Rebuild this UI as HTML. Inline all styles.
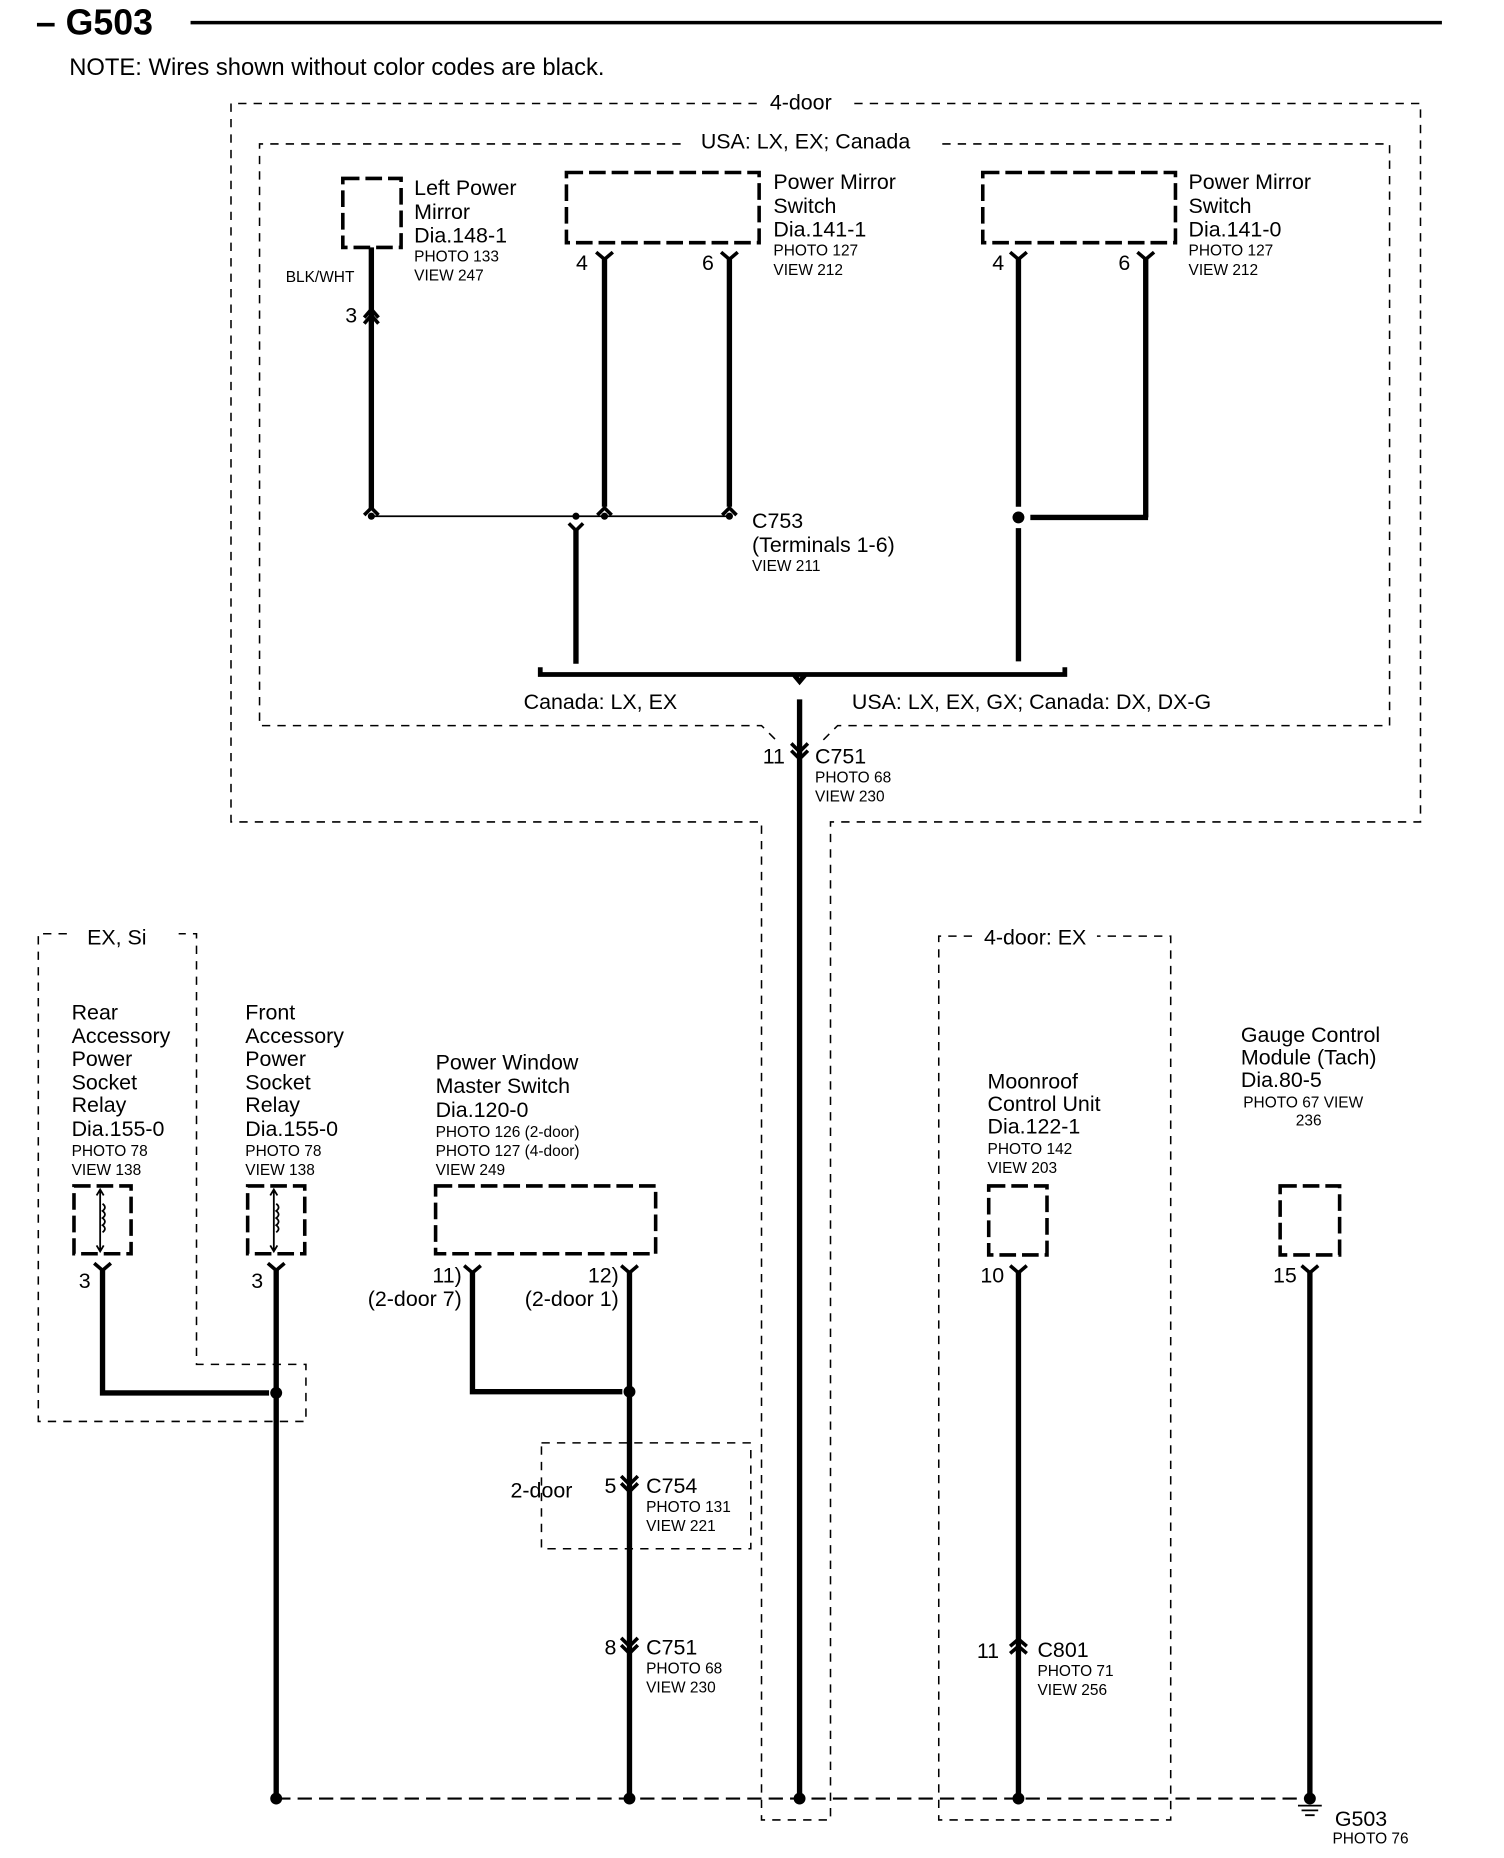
<!DOCTYPE html>
<html><head><meta charset="utf-8"><style>
html,body{margin:0;padding:0;background:#fff}
svg{display:block}
text{font-family:"Liberation Sans Narrow","Liberation Sans",sans-serif;fill:#000}
.l{font-size:18px}.s{font-size:13px}
.d{fill:none;stroke:#000;stroke-width:1.3;stroke-dasharray:7,6}
.b{fill:none;stroke:#000;stroke-width:3;stroke-dasharray:14,5}
.w{fill:none;stroke:#000;stroke-width:4.5}
.c{fill:none;stroke:#000;stroke-width:3}
.t{fill:none;stroke:#000;stroke-width:1.5}
</style></head><body>
<svg width="1504" height="1858" viewBox="0 0 1264 1562" xmlns="http://www.w3.org/2000/svg">
<!-- header -->
<text x="30" y="29" style="font-family:'Liberation Sans',sans-serif;font-size:30px;font-weight:bold">– G503</text>
<line x1="160" y1="19" x2="1212" y2="19" stroke="#000" stroke-width="3"/>
<text x="58" y="63" style="font-family:'Liberation Sans',sans-serif;font-size:20px">NOTE: Wires shown without color codes are black.</text>

<!-- 4-door box -->
<path class="d" d="M636,87 H194 V691 H640 V1530 H698 V691 H1194 V87 H712"/>
<text x="673" y="92" class="l" text-anchor="middle">4-door</text>
<!-- USA box -->
<path class="d" d="M572,121 H218 V610 H640 L652,622 M692,622 L704,610 H1168 V121 H786"/>
<text x="677" y="125" class="l" text-anchor="middle">USA: LX, EX; Canada</text>

<!-- left power mirror -->
<rect class="b" x="288" y="150" width="49" height="58"/>
<text x="348" y="164" class="l">Left Power</text>
<text x="348" y="184" class="l">Mirror</text>
<text x="348" y="204" class="l">Dia.148-1</text>
<text x="348" y="220" class="s">PHOTO 133</text>
<text x="348" y="236" class="s">VIEW 247</text>
<text x="240" y="237" class="s">BLK/WHT</text>
<line class="w" x1="312" y1="208" x2="312" y2="428"/>
<path class="c" d="M306,267 L312,260 L318,267 M306,272 L312,265 L318,272"/>
<text x="290" y="271" class="l">3</text>

<!-- PMS 1 -->
<rect class="b" x="476" y="145" width="162" height="59"/>
<text x="650" y="159" class="l">Power Mirror</text>
<text x="650" y="179" class="l">Switch</text>
<text x="650" y="199" class="l">Dia.141-1</text>
<text x="650" y="215" class="s">PHOTO 127</text>
<text x="650" y="231" class="s">VIEW 212</text>
<path class="c" d="M501,212 L508,218 L515,212 M606,212 L613,218 L620,212"/>
<line class="w" x1="508" y1="216" x2="508" y2="426"/>
<line class="w" x1="613" y1="216" x2="613" y2="426"/>
<text x="484" y="227" class="l">4</text>
<text x="590" y="227" class="l">6</text>
<path class="c" d="M502,433 L508,427 L514,433 M607,433 L613,427 L619,433 M306,433 L312,427 L318,433"/>
<line class="t" x1="312" y1="434" x2="613" y2="434"/>
<circle cx="312" cy="434" r="3"/><circle cx="484" cy="434" r="3"/><circle cx="508" cy="434" r="3"/><circle cx="613" cy="434" r="3"/>
<path class="c" d="M478,440 L484,446 L490,440"/>
<line class="w" x1="484" y1="444" x2="484" y2="558"/>
<text x="632" y="444" class="l">C753</text>
<text x="632" y="464" class="l">(Terminals 1-6)</text>
<text x="632" y="480" class="s">VIEW 211</text>

<!-- PMS 2 -->
<rect class="b" x="826" y="145" width="162" height="59"/>
<text x="999" y="159" class="l">Power Mirror</text>
<text x="999" y="179" class="l">Switch</text>
<text x="999" y="199" class="l">Dia.141-0</text>
<text x="999" y="215" class="s">PHOTO 127</text>
<text x="999" y="231" class="s">VIEW 212</text>
<path class="c" d="M849,212 L856,218 L863,212 M956,212 L963,218 L970,212"/>
<line class="w" x1="856" y1="216" x2="856" y2="426"/>
<line class="w" x1="963" y1="216" x2="963" y2="435"/>
<line class="w" x1="866" y1="435" x2="965" y2="435"/>
<circle cx="856" cy="435" r="5"/>
<line class="w" x1="856" y1="444" x2="856" y2="556"/>
<text x="834" y="227" class="l">4</text>
<text x="940" y="227" class="l">6</text>

<!-- brace -->
<path d="M454,561 V567 H895 V561 M667,567 L672,573 L677,567" fill="none" stroke="#000" stroke-width="4"/>
<text x="440" y="596" class="l">Canada: LX, EX</text>
<text x="716" y="596" class="l">USA: LX, EX, GX; Canada: DX, DX-G</text>

<!-- main wire -->
<line class="w" x1="672" y1="588" x2="672" y2="1512"/>
<path class="c" d="M665,625 L672,632 L679,625 M665,631 L672,638 L679,631"/>
<text x="641" y="642" class="l">11</text>
<text x="685" y="642" class="l">C751</text>
<text x="685" y="658" class="s">PHOTO 68</text>
<text x="685" y="674" class="s">VIEW 230</text>

<!-- EX Si box -->
<path class="d" d="M56,785 H32 V1195 H257 V1147 H165 V785 H150"/>
<text x="73" y="794" class="l">EX, Si</text>
<text x="60" y="857" class="l">Rear</text>
<text x="60" y="877" class="l">Accessory</text>
<text x="60" y="896" class="l">Power</text>
<text x="60" y="916" class="l">Socket</text>
<text x="60" y="935" class="l">Relay</text>
<text x="60" y="955" class="l">Dia.155-0</text>
<text x="60" y="972" class="s">PHOTO 78</text>
<text x="60" y="988" class="s">VIEW 138</text>
<text x="206" y="857" class="l">Front</text>
<text x="206" y="877" class="l">Accessory</text>
<text x="206" y="896" class="l">Power</text>
<text x="206" y="916" class="l">Socket</text>
<text x="206" y="935" class="l">Relay</text>
<text x="206" y="955" class="l">Dia.155-0</text>
<text x="206" y="972" class="s">PHOTO 78</text>
<text x="206" y="988" class="s">VIEW 138</text>
<rect class="b" x="62" y="997" width="48" height="57"/>
<rect class="b" x="208" y="997" width="48" height="57"/>
<g class="t">
<path d="M84,1000 V1052 M81,1005 L84,1000 L87,1005 M81,1047 L84,1052 L87,1047 M86,1012 q4,3 0,6 q4,3 0,6 q4,3 0,6 q4,3 0,6"/>
<path d="M230,1000 V1052 M227,1005 L230,1000 L233,1005 M227,1047 L230,1052 L233,1047 M232,1012 q4,3 0,6 q4,3 0,6 q4,3 0,6 q4,3 0,6"/>
</g>
<path class="c" d="M79,1062 L86,1068 L93,1062 M225,1062 L232,1068 L239,1062"/>
<text x="66" y="1083" class="l">3</text>
<text x="211" y="1083" class="l">3</text>
<path class="w" d="M86,1066 V1171 H226"/>
<line class="w" x1="232" y1="1066" x2="232" y2="1512"/>
<circle cx="232" cy="1171" r="5"/>

<!-- PWMS -->
<text x="366" y="899" class="l">Power Window</text>
<text x="366" y="919" class="l">Master Switch</text>
<text x="366" y="939" class="l">Dia.120-0</text>
<text x="366" y="956" class="s">PHOTO 126 (2-door)</text>
<text x="366" y="972" class="s">PHOTO 127 (4-door)</text>
<text x="366" y="988" class="s">VIEW 249</text>
<rect class="b" x="366" y="997" width="185" height="57"/>
<path class="c" d="M390,1064 L397,1070 L404,1064 M522,1064 L529,1070 L536,1064"/>
<text x="388" y="1078" class="l" text-anchor="end">11)</text>
<text x="388" y="1098" class="l" text-anchor="end">(2-door 7)</text>
<text x="520" y="1078" class="l" text-anchor="end">12)</text>
<text x="520" y="1098" class="l" text-anchor="end">(2-door 1)</text>
<path class="w" d="M397,1068 V1170 H523"/>
<line class="w" x1="529" y1="1068" x2="529" y2="1512"/>
<circle cx="529" cy="1170" r="5"/>
<rect class="d" x="455" y="1213" width="176" height="89"/>
<text x="429" y="1259" class="l">2-door</text>
<path class="c" d="M522,1241 L529,1248 L536,1241 M522,1247 L529,1254 L536,1247"/>
<text x="508" y="1255" class="l">5</text>
<text x="543" y="1255" class="l">C754</text>
<text x="543" y="1271" class="s">PHOTO 131</text>
<text x="543" y="1287" class="s">VIEW 221</text>
<path class="c" d="M522,1377 L529,1384 L536,1377 M522,1383 L529,1390 L536,1383"/>
<text x="508" y="1391" class="l">8</text>
<text x="543" y="1391" class="l">C751</text>
<text x="543" y="1407" class="s">PHOTO 68</text>
<text x="543" y="1423" class="s">VIEW 230</text>

<!-- moonroof -->
<path class="d" d="M817,787 H789 V1530 H984 V787 H922"/>
<text x="827" y="794" class="l">4-door: EX</text>
<text x="830" y="915" class="l">Moonroof</text>
<text x="830" y="934" class="l">Control Unit</text>
<text x="830" y="953" class="l">Dia.122-1</text>
<text x="830" y="970" class="s">PHOTO 142</text>
<text x="830" y="986" class="s">VIEW 203</text>
<rect class="b" x="831" y="997" width="49" height="58"/>
<path class="c" d="M849,1064 L856,1070 L863,1064"/>
<text x="824" y="1078" class="l">10</text>
<line class="w" x1="856" y1="1068" x2="856" y2="1512"/>
<path class="c" d="M849,1384 L856,1378 L863,1384 M849,1390 L856,1384 L863,1390"/>
<text x="821" y="1394" class="l">11</text>
<text x="872" y="1393" class="l">C801</text>
<text x="872" y="1409" class="s">PHOTO 71</text>
<text x="872" y="1425" class="s">VIEW 256</text>

<!-- gauge -->
<text x="1043" y="876" class="l">Gauge Control</text>
<text x="1043" y="895" class="l">Module (Tach)</text>
<text x="1043" y="914" class="l">Dia.80-5</text>
<text x="1045" y="931" class="s">PHOTO 67 VIEW</text>
<text x="1100" y="946" class="s" text-anchor="middle">236</text>
<rect class="b" x="1076" y="997" width="50" height="58"/>
<path class="c" d="M1094,1064 L1101,1070 L1108,1064"/>
<text x="1070" y="1078" class="l">15</text>
<line class="w" x1="1101" y1="1068" x2="1101" y2="1512"/>
<path class="t" d="M1091,1518 H1111 M1094,1522 H1108 M1097,1526 H1105"/>
<text x="1122" y="1535" class="l">G503</text>
<text x="1120" y="1550" class="s">PHOTO 76</text>

<!-- bottom ground bus -->
<line x1="232" y1="1512" x2="1101" y2="1512" stroke="#000" stroke-width="1.8" stroke-dasharray="12,6"/>
<circle cx="232" cy="1512" r="5"/><circle cx="529" cy="1512" r="5"/><circle cx="672" cy="1512" r="5"/><circle cx="856" cy="1512" r="5"/><circle cx="1101" cy="1512" r="5"/>
</svg>
</body></html>
